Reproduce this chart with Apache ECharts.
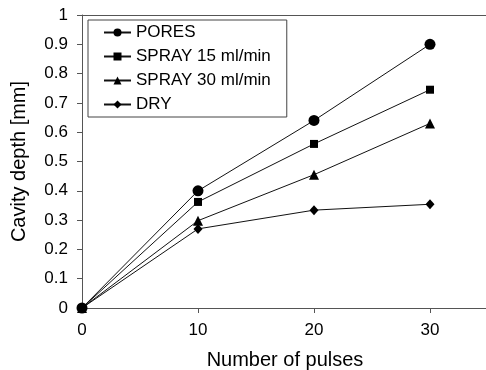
<!DOCTYPE html>
<html><head><meta charset="utf-8">
<script src="https://cdn.jsdelivr.net/npm/echarts@6/dist/echarts.min.js"></script>
<style>html,body{margin:0;padding:0;background:#fff}#c{width:486px;height:370px}</style>
</head><body><div id="c"></div>
<script>
const pulses = [0, 10, 20, 30];
const pores = [0, 0.40, 0.64, 0.90];
const spray15 = [0, 0.362, 0.56, 0.745];
const spray30 = [0, 0.298, 0.455, 0.63];
const dry = [0, 0.27, 0.334, 0.354];
const xTicks = [0, 10, 20, 30];
const names = ['PORES', 'SPRAY 15 ml/min', 'SPRAY 30 ml/min', 'DRY'];
const font = 'Liberation Sans, Arial, sans-serif';
const axisColor = '#555';
function mk(name, vals, symbol, size) {
  return {
    name, type: 'line', data: pulses.map((p, i) => [p, vals[i]]),
    symbol, symbolSize: size, showAllSymbol: true,
    lineStyle: { color: '#111', width: 1 },
    itemStyle: { color: '#000' },
    emphasis: { disabled: true }, animation: false
  };
}
const chart = echarts.init(document.getElementById('c'), null, { renderer: 'canvas' });
chart.setOption({
  animation: false,
  grid: { left: 82, top: 15, right: -2, bottom: 62, outerBoundsMode: 'none', containLabel: false },
  legend: {
    orient: 'vertical', left: 88, top: 20, data: names,
    itemWidth: 27, itemHeight: 10, itemGap: 7,
    borderColor: '#444', borderWidth: 1, padding: [4, 16, 4, 15],
    textStyle: { fontFamily: font, fontSize: 17, color: '#000' }
  },
  xAxis: [{
    type: 'value', min: 0, max: 35,
    name: 'Number of pulses', nameLocation: 'middle', nameGap: 42,
    nameTextStyle: { fontFamily: font, fontSize: 20, color: '#000' },
    axisLine: { lineStyle: { color: axisColor } },
    axisTick: { show: true, length: 5, customValues: xTicks, lineStyle: { color: axisColor } },
    axisLabel: { fontFamily: font, fontSize: 17, color: '#000', margin: 14, customValues: xTicks },
    splitLine: { show: false }
  }, {
    type: 'value', min: 0, max: 35, position: 'top',
    axisLine: { show: true, lineStyle: { color: axisColor } },
    axisTick: { show: false }, axisLabel: { show: false }, splitLine: { show: false }
  }],
  yAxis: {
    type: 'value', min: 0, max: 1, interval: 0.1,
    name: 'Cavity depth [mm]', nameLocation: 'middle', nameGap: 53,
    nameTextStyle: { fontFamily: font, fontSize: 20, color: '#000' },
    axisLine: { show: true, lineStyle: { color: axisColor } },
    axisTick: { show: true, length: 5, lineStyle: { color: axisColor } },
    axisLabel: { fontFamily: font, fontSize: 17, color: '#000', margin: 14,
      formatter: v => String(Math.round(v * 10) / 10) },
    splitLine: { show: false }
  },
  series: [
    mk(names[0], pores, 'circle', 11),
    mk(names[1], spray15, 'rect', 8),
    mk(names[2], spray30, 'triangle', 10),
    mk(names[3], dry, 'diamond', [9, 10])
  ]
});
</script></body></html>
